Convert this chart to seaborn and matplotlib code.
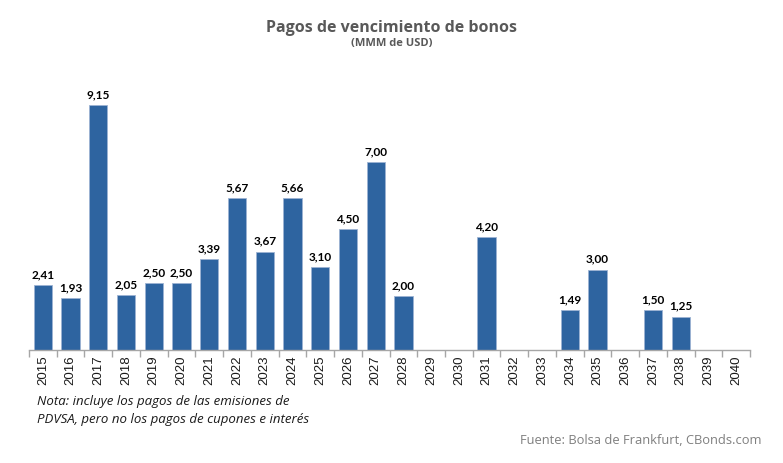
import matplotlib
matplotlib.use("Agg")
from matplotlib import pyplot as plt
import numpy as np
import pandas as pd
import seaborn as sb

# data (MMM de USD); None = no payment that year
years = [str(y) for y in range(2015, 2041)]
pagos = [2.41, 1.93, 9.15, 2.05, 2.50, 2.50, 3.39, 5.67, 3.67, 5.66, 3.10, 4.50, 7.00, 2.00,
         None, None, 4.20, None, None, 1.49, 3.00, None, 1.50, 1.25, None, None]

df = pd.DataFrame({"year": years, "pago": pagos})

sb.set_theme(style="white")
plt.rcParams['font.family'] = ['Lato', 'DejaVu Sans']

fig = plt.figure(figsize=(7.83, 4.63), dpi=100)
ax = fig.add_axes([0.037, 0.244, 0.921, 0.579])

sb.barplot(data=df, x="year", y="pago", color="#2E64A0", width=0.66,
           edgecolor="#9DB3D3", linewidth=0.6, saturation=1, ax=ax)

for i, v in enumerate(df["pago"]):
    if pd.notna(v):
        ax.text(i, v + 0.18, f"{v:.2f}".replace(".", ","), ha="center", va="bottom",
                fontsize=8.5, fontweight="bold", color="black")

ax.set_ylim(0, 10)
ax.set_xlim(-0.5, len(years) - 0.5)
ax.set_xlabel("")
ax.set_ylabel("")
ax.set_yticks([])
for s in ["top", "right", "left"]:
    ax.spines[s].set_visible(False)
ax.spines["bottom"].set_color("#A6A6A6")
ax.spines["bottom"].set_linewidth(1)

ax.set_xticks(np.arange(len(years) + 1) - 0.5, minor=True)
ax.tick_params(axis="x", which="minor", bottom=True, length=5, color="#A6A6A6", width=1)
ax.tick_params(axis="x", which="major", bottom=False, length=0, pad=4)
ax.set_xticklabels(years, rotation=90, fontsize=9.5, color="#1a1a1a",
                   family=["Liberation Sans", "DejaVu Sans"])

fig.text(0.5, 0.940, "Pagos de vencimiento de bonos", ha="center", va="center",
         fontsize=11.5, fontweight="bold", color="#595959", family=["Open Sans", "DejaVu Sans"])
fig.text(0.5, 0.905, "(MMM de USD)", ha="center", va="center",
         fontsize=8, fontweight="bold", color="#595959", family=["Open Sans", "DejaVu Sans"])

fig.text(0.047, 0.113, "Nota: incluye los pagos de las emisiones de\nPDVSA, pero no los pagos de cupones e interés",
         ha="left", va="center", fontsize=9.5, style="italic", color="#1a1a1a",
         linespacing=1.45, family=["Open Sans", "DejaVu Sans"])
fig.text(0.972, 0.048, "Fuente: Bolsa de Frankfurt, CBonds.com", ha="right", va="center",
         fontsize=9.3, color="#7F7F7F", family=["Open Sans", "DejaVu Sans"])

fig.savefig("out.png", dpi=100)
